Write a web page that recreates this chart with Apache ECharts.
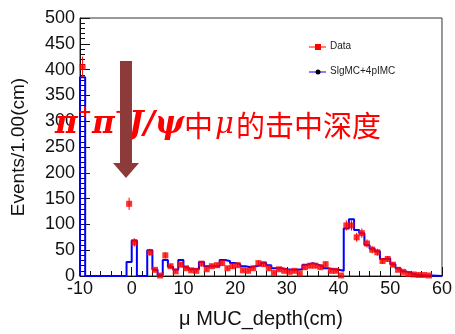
<!DOCTYPE html>
<html>
<head>
<meta charset="utf-8">
<script src="https://cdn.jsdelivr.net/npm/echarts@6/dist/echarts.min.js"></script>
<style>html,body{margin:0;padding:0;background:#fff;}#c{width:455px;height:334px;}</style>
</head>
<body>
<div id="c"></div>
<script>
// bin lower edges (1 cm bins from -10 to 60)
const binLow = [-10,-9,-8,-7,-6,-5,-4,-3,-2,-1,0,1,2,3,4,5,6,7,8,9,10,11,12,13,14,15,16,17,18,19,20,21,22,23,24,25,26,27,28,29,30,31,32,33,34,35,36,37,38,39,40,41,42,43,44,45,46,47,48,49,50,51,52,53,54,55,56,57,58,59];
// SigMC+4piMC histogram contents
const mcValues = [385,0,0,0,0,0,0,0,0,27,69,0,0,50,12,2,31,18,12,31,17,13,13,27,19,19,19,31,29,25,23,19,17,19,21,25,21,15,15,13,12,12,13,22,25,22,19,15,13,12,10,92,110,89,83,60,53,48,33,34,23,15,9,6,3,2,1,1,0.5,0];
// Data contents (null = no point drawn)
const dataValues = [405,null,null,null,null,null,null,null,null,140,65,null,null,46,12,1,40,19,9,22,15,11,10,24,13,19,21,25,15,19,21,11,10,15,25,23,15,6,13,10,8,10,5,17,20,20,17,23,10,10,1,98,98,75,83,63,51,46,29,33,22,12,8,4,3,2,2,1,null,null];
const xTicks = {min:-10, max:60, interval:10};
const yTicks = {min:0, max:500, interval:50};

const mcLine = [[binLow[0], 0]];
binLow.forEach((x,i)=>mcLine.push([x, mcValues[i]]));
mcLine.push([binLow[binLow.length-1]+1, mcValues[mcValues.length-1]]);

const dataPts = [];
binLow.forEach((x,i)=>{ if(dataValues[i]!==null) dataPts.push([x+0.5, dataValues[i]]); });

const chart = echarts.init(document.getElementById('c'), null, {renderer:'canvas'});
const font = 'Liberation Sans, Arial, sans-serif';
const red = '#ff0000';
const arrowCol = '#8c3a3a';

chart.setOption({
  animation:false,
  backgroundColor:'#fff',
  grid:{left:80, right:8, top:18, bottom:56, show:true, borderColor:'#333', borderWidth:1},
  xAxis:{
    type:'value', min:xTicks.min, max:xTicks.max, interval:xTicks.interval,
    name:'μ MUC_depth(cm)', nameLocation:'middle', nameGap:33,
    nameTextStyle:{fontFamily:font, fontSize:20, color:'#111'},
    axisLine:{show:true, onZero:false, lineStyle:{color:'#111', width:1}},
    axisTick:{show:true, inside:true, length:9, lineStyle:{color:'#111'}},
    minorTick:{show:true, splitNumber:5, length:5, lineStyle:{color:'#111'}},
    splitLine:{show:false},
    axisLabel:{fontFamily:font, fontSize:18, color:'#111', margin:4}
  },
  yAxis:{
    type:'value', min:yTicks.min, max:yTicks.max, interval:yTicks.interval,
    name:'Events/1.00(cm)', nameLocation:'middle', nameGap:52,
    nameTextStyle:{fontFamily:font, fontSize:19, color:'#111'},
    axisLine:{show:true, onZero:false, lineStyle:{color:'#111', width:1}},
    axisTick:{show:true, inside:true, length:10, lineStyle:{color:'#111'}},
    minorTick:{show:true, splitNumber:5, length:5, lineStyle:{color:'#111'}},
    splitLine:{show:false},
    axisLabel:{fontFamily:font, fontSize:18, color:'#111', margin:5}
  },
  series:[
    {type:'line', name:'SigMC+4piMC', data:mcLine, step:'end', showSymbol:false, symbol:'none',
     lineStyle:{color:'#0000ff', width:2}, z:3},
    {type:'custom', name:'err', data:dataPts, z:4,
     renderItem:function(params, api){
       const x = api.value(0), y = api.value(1);
       const e = Math.sqrt(y);
       const p1 = api.coord([x, y+e]);
       const p2 = api.coord([x, Math.max(0,y-e)]);
       return {type:'line', shape:{x1:p1[0], y1:p1[1], x2:p2[0], y2:p2[1]}, style:{stroke:red, lineWidth:1}};
     }},
    {type:'scatter', name:'Data', data:dataPts, symbol:'rect', symbolSize:6, itemStyle:{color:red}, z:5}
  ],
  graphic:[
    // legend
    {type:'line', shape:{x1:309, y1:47, x2:326, y2:47}, style:{stroke:red, lineWidth:1}, z:10},
    {type:'rect', shape:{x:315, y:44, width:6, height:6}, style:{fill:red}, z:10},
    {type:'text', left:330, top:41, style:{text:'Data', font:'10px '+font, fill:'#222'}, z:10},
    {type:'line', shape:{x1:309, y1:72, x2:326, y2:72}, style:{stroke:'#0000ff', lineWidth:1}, z:10},
    {type:'circle', shape:{cx:318, cy:72, r:2.5}, style:{fill:'#000'}, z:10},
    {type:'text', left:330, top:66, style:{text:'SlgMC+4pIMC', font:'10px '+font, fill:'#222'}, z:10},
    // annotation
    {type:'text', left:55, top:104, z:20, style:{
      text:'{p|π}{s|+}{p|π}{s|−}{p|J/ψ}{c|中}{m|μ}{c|的击中深度}',
      rich:{
        p:{fontFamily:'DejaVu Serif', fontWeight:'bold', fontStyle:'italic', fontSize:31, fill:red, lineHeight:36, verticalAlign:'bottom'},
        s:{fontFamily:'DejaVu Serif', fontWeight:'bold', fontSize:17, fill:red, lineHeight:36, verticalAlign:'top'},
        m:{fontFamily:'DejaVu Serif', fontStyle:'italic', fontSize:29, fill:red, lineHeight:36, verticalAlign:'bottom', padding:[0,2,0,2]},
        c:{fontFamily:'Noto Sans CJK SC', fontSize:29, fill:red, lineHeight:36, verticalAlign:'bottom'}
      }
    }},
    // arrow
    {type:'polygon', z:30, shape:{points:[[120,61],[132,61],[132,163],[139,163],[126,178],[113,163],[120,163]]}, style:{fill:arrowCol}}
  ]
});
</script>
</body>
</html>
